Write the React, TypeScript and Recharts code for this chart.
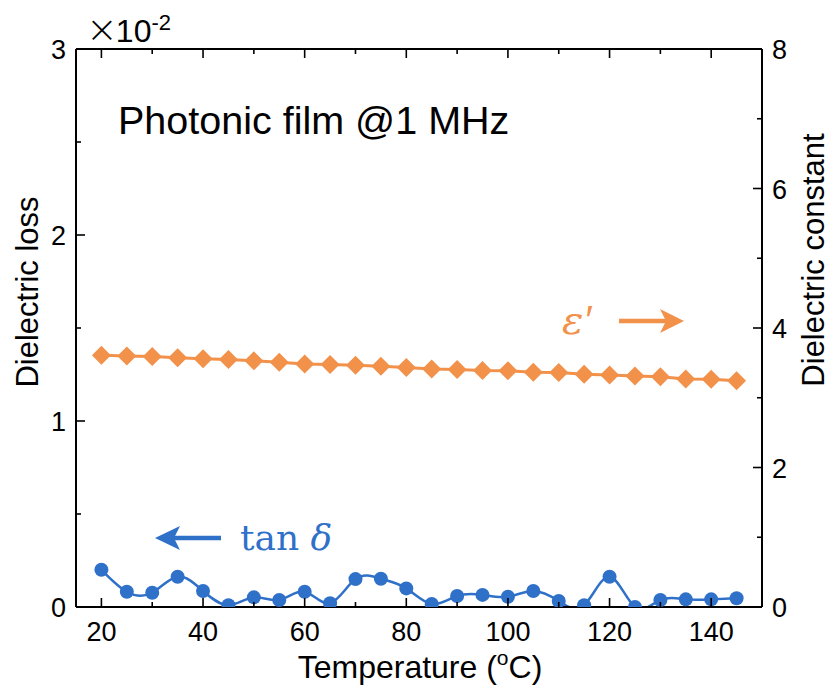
import { Line, LineChart, XAxis, YAxis } from "recharts";

const temps = [20, 25, 30, 35, 40, 45, 50, 55, 60, 65, 70, 75, 80, 85, 90, 95, 100, 105, 110, 115, 120, 125, 130, 135, 140, 145];
// dielectric loss, in units of 1e-2
const tanDelta = [0.2, 0.082, 0.077, 0.163, 0.086, 0.01, 0.052, 0.038, 0.082, 0.02, 0.15, 0.152, 0.1, 0.016, 0.059, 0.065, 0.055, 0.086, 0.032, 0.01, 0.163, 0.0, 0.038, 0.041, 0.041, 0.047];
// dielectric constant
const epsilon = [3.61, 3.6, 3.59, 3.575, 3.56, 3.55, 3.53, 3.51, 3.485, 3.475, 3.465, 3.45, 3.435, 3.412, 3.405, 3.39, 3.388, 3.365, 3.362, 3.338, 3.326, 3.312, 3.3, 3.27, 3.265, 3.245];

const xTicks = [20, 30, 40, 50, 60, 70, 80, 90, 100, 110, 120, 130, 140];
const lossTicks = [0, 0.5, 1, 1.5, 2, 2.5, 3];
const constTicks = [0, 1, 2, 3, 4, 5, 6, 7, 8];

const rows = temps.map((t, i) => ({ t, loss: tanDelta[i], eps: epsilon[i] }));

const BLUE = "#2f70c9";
const ORANGE = "#f2914a";
const FONT = "'Liberation Sans', Arial, sans-serif";
const SERIF = "'DejaVu Serif', serif";
const TICK_SIZE = 27;

function BottomTick({ x, y, payload }: any) {
  const v = payload.value;
  const major = v % 20 === 0;
  return (
    <g>
      <line x1={x} x2={x} y1={y} y2={y - (major ? 9 : 5)} stroke="#000" strokeWidth={1.6} />
      {major && (
        <text x={x} y={y + 34} textAnchor="middle" fontSize={TICK_SIZE} fontFamily={FONT} fill="#000">
          {v}
        </text>
      )}
    </g>
  );
}

function TopTick({ x, y, payload }: any) {
  const major = payload.value % 20 === 0;
  return <line x1={x} x2={x} y1={y} y2={y + (major ? 9 : 5)} stroke="#000" strokeWidth={1.6} />;
}

function LeftTick({ x, y, payload }: any) {
  const v = payload.value;
  const major = Number.isInteger(v);
  return (
    <g>
      <line x1={x} x2={x + (major ? 9 : 5)} y1={y} y2={y} stroke="#000" strokeWidth={1.6} />
      {major && (
        <text x={x - 10} y={y + 10} textAnchor="end" fontSize={TICK_SIZE} fontFamily={FONT} fill="#000">
          {v}
        </text>
      )}
    </g>
  );
}

function RightTick({ x, y, payload }: any) {
  const v = payload.value;
  const major = v % 2 === 0;
  return (
    <g>
      <line x1={x} x2={x - (major ? 9 : 5)} y1={y} y2={y} stroke="#000" strokeWidth={1.6} />
      {major && (
        <text x={x + 10} y={y + 10} textAnchor="start" fontSize={TICK_SIZE} fontFamily={FONT} fill="#000">
          {v}
        </text>
      )}
    </g>
  );
}

function Diamond(props: any) {
  const { cx, cy } = props;
  if (cx == null || cy == null) return <g key={`dm-${props.index}`} />;
  const h = 9.5;
  return (
    <path
      key={`dm-${props.index}`}
      d={`M${cx},${cy - h} L${cx + h},${cy} L${cx},${cy + h} L${cx - h},${cy} Z`}
      fill={ORANGE}
    />
  );
}

const axisLine = { stroke: "#000", strokeWidth: 2 };

export default function App() {
  return (
    <div style={{ position: "absolute", left: 0, top: 0, width: 831, height: 689, background: "#fff" }}>
      <LineChart width={831} height={689} data={rows} margin={{ top: 19, right: 9, bottom: 32, left: 16 }}>
        <XAxis
          xAxisId="bottom"
          dataKey="t"
          type="number"
          domain={[15, 150]}
          ticks={xTicks}
          interval={0}
          allowDataOverflow
          height={50}
          tickSize={0}
          tickMargin={0}
          tickLine={false}
          axisLine={axisLine}
          tick={<BottomTick />}
        />
        <XAxis
          xAxisId="top"
          orientation="top"
          dataKey="t"
          type="number"
          domain={[15, 150]}
          ticks={xTicks}
          interval={0}
          height={30}
          tickSize={0}
          tickMargin={0}
          tickLine={false}
          axisLine={axisLine}
          tick={<TopTick />}
        />
        <YAxis
          yAxisId="left"
          type="number"
          domain={[0, 3]}
          ticks={lossTicks}
          interval={0}
          allowDataOverflow
          width={60}
          tickSize={0}
          tickMargin={0}
          tickLine={false}
          axisLine={axisLine}
          tick={<LeftTick />}
        />
        <YAxis
          yAxisId="right"
          orientation="right"
          type="number"
          domain={[0, 8]}
          ticks={constTicks}
          interval={0}
          allowDataOverflow
          width={60}
          tickSize={0}
          tickMargin={0}
          tickLine={false}
          axisLine={axisLine}
          tick={<RightTick />}
        />
        <Line
          xAxisId="bottom"
          yAxisId="right"
          dataKey="eps"
          type="linear"
          stroke={ORANGE}
          strokeWidth={3}
          dot={(p: any) => <Diamond {...p} />}
          activeDot={false}
          isAnimationActive={false}
        />
        <Line
          xAxisId="bottom"
          yAxisId="left"
          dataKey="loss"
          type="natural"
          stroke={BLUE}
          strokeWidth={2.5}
          dot={{ r: 7, fill: BLUE, stroke: BLUE, strokeWidth: 0 }}
          activeDot={false}
          isAnimationActive={false}
        />
      </LineChart>
      <svg
        width={831}
        height={689}
        style={{ position: "absolute", left: 0, top: 0, pointerEvents: "none" }}
        fontFamily={FONT}
      >
        <text x={86} y={42} fontSize={32} fill="#000">
          <tspan fontSize={38} fontFamily="'DejaVu Sans', sans-serif" fontWeight={200}>×</tspan>
          <tspan dx={-2}>10</tspan>
          <tspan fontSize={22} dy={-12}>-2</tspan>
        </text>
        <text x={118} y={134} fontSize={39.5} fill="#000">
          Photonic film @1 MHz
        </text>
        <text x={420} y={678} fontSize={32} textAnchor="middle" fill="#000">
          Temperature (<tspan fontSize={21} dy={-13}>o</tspan>
          <tspan dy={13}>C)</tspan>
        </text>
        <text transform="translate(38,292) rotate(-90)" fontSize={31} textAnchor="middle" fill="#000">
          Dielectric loss
        </text>
        <text transform="translate(824,260) rotate(-90)" fontSize={31} textAnchor="middle" fill="#000">
          Dielectric constant
        </text>
        <text x={562} y={334} fontSize={40} fontStyle="italic" fontFamily={SERIF} fill={ORANGE}>
          ε
          <tspan fontStyle="normal" fontFamily={FONT} dx={2}>′</tspan>
        </text>
        <line x1={619} x2={668} y1={321} y2={321} stroke={ORANGE} strokeWidth={4.5} />
        <path d="M684,321 L660,309 L666,321 L660,333 Z" fill={ORANGE} />
        <line x1={172} x2={221} y1={538} y2={538} stroke={BLUE} strokeWidth={4.5} />
        <path d="M155,538 L180,526 L174,538 L180,550 Z" fill={BLUE} />
        <text x={240} y={550} fontSize={36} fontFamily={SERIF} fill={BLUE}>
          tan <tspan fontStyle="italic">δ</tspan>
        </text>
      </svg>
    </div>
  );
}
